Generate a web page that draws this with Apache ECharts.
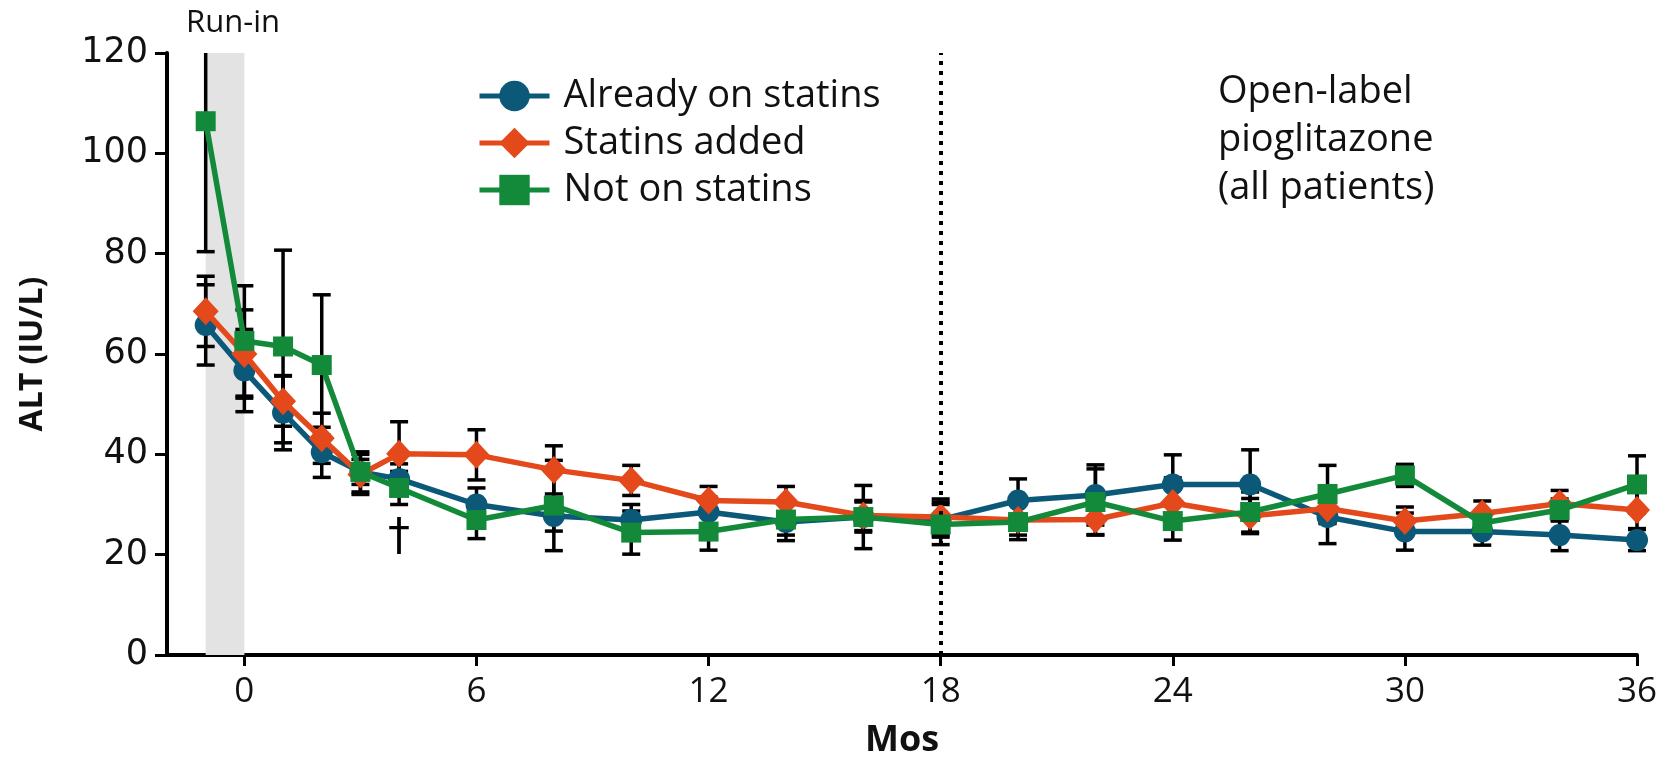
<!DOCTYPE html>
<html>
<head>
<meta charset="utf-8">
<script src="https://cdn.jsdelivr.net/npm/echarts@6/dist/echarts.min.js"></script>
<style>
  html, body { margin: 0; padding: 0; background: #fff; }
  #main { width: 1671px; height: 764px; }
</style>
</head>
<body>
<div id="main"></div>
<script>
// months of follow-up
var months = [-1, 0, 1, 2, 3, 4, 6, 8, 10, 12, 14, 16, 18, 20, 22, 24, 26, 28, 30, 32, 34, 36];

// ALT means (IU/L)
var alreadyOn = [65.8, 56.7, 48.3, 40.4, 36.5, 35.1, 30.0, 27.7, 26.9, 28.5, 26.5, 27.5, 27.0, 30.8, 31.9, 34.0, 34.0, 27.5, 24.6, 24.6, 23.9, 22.9];
var added     = [68.5, 60.0, 50.6, 43.2, 36.0, 40.1, 39.9, 36.9, 34.8, 30.8, 30.5, 27.8, 27.5, 26.9, 27.0, 30.3, 27.7, 29.2, 26.7, 28.2, 30.2, 28.9];
var notOn     = [106.4, 62.6, 61.5, 57.8, 36.5, 33.3, 26.9, 29.8, 24.4, 24.6, 27.0, 27.5, 26.0, 26.5, 30.5, 26.7, 28.5, 32.1, 35.8, 26.3, 28.9, 34.0];

// error bar half widths
var alreadyOnErr = [8, 8.2, 7.4, 5, 2.5, 3, 3.3, 3, 3.1, 3, 3.7, 3, 3.5, 4.3, 6, 5.9, 6.9, 5.3, 3.7, 2.7, 3.1, 2.1];
var addedErr     = [7, 8.8, 5, 5, 4, 6.4, 5, 4.8, 3, 2.8, 3.1, 3, 3.6, 3, 3, 5, 3.5, 3, 2.8, 2.5, 2.6, 3.7];
var notOnErr     = [26, 11, 19.2, 14, 4, 3.3, 3.7, 9, 4.3, 3.7, 3.1, 6.3, 4, 3.5, 6.6, 3.8, 4, 5.7, 2.2, 2, 2.2, 5.7];

var xTicks = [0, 6, 12, 18, 24, 30, 36];
var names = ['Already on statins', 'Statins added', 'Not on statins'];
var colors = ['#0b5878', '#e4491c', '#128a3a'];

var yMax = 120;

function pairs(vals) {
  return months.map(function (m, i) { return [m, vals[i]]; });
}
function errData(vals, errs) {
  return months.map(function (m, i) { return [m, vals[i] - errs[i], vals[i] + errs[i]]; });
}

// 误差线
function renderErr(params, api) {
  var x = api.value(0);
  var lo = api.value(1);
  var hi = api.value(2);
  var capTop = true;
  if (hi > yMax) { hi = yMax; capTop = false; }
  var pLo = api.coord([x, lo]);
  var pHi = api.coord([x, hi]);
  var w = 9;
  var st = { stroke: '#000', lineWidth: 3.5 };
  var kids = [
    { type: 'line', shape: { x1: pLo[0], y1: pLo[1], x2: pHi[0], y2: pHi[1] }, style: st },
    { type: 'line', shape: { x1: pLo[0] - w, y1: pLo[1], x2: pLo[0] + w, y2: pLo[1] }, style: st }
  ];
  if (capTop) {
    kids.push({ type: 'line', shape: { x1: pHi[0] - w, y1: pHi[1], x2: pHi[0] + w, y2: pHi[1] }, style: st });
  }
  return { type: 'group', children: kids };
}

var font = '"Open Sans", sans-serif';
var chart = echarts.init(document.getElementById('main'));

var option = {
  animation: false,
  grid: { left: 167, right: 34, top: 53, bottom: 105, containLabel: false },
  legend: {
    data: names,
    orient: 'vertical',
    left: 472,
    top: 72,
    itemWidth: 70,
    itemHeight: 38,
    itemGap: 9,
    lineStyle: { width: 5 },
    textStyle: { fontFamily: font, fontSize: 38, color: '#111', lineHeight: 38, padding: [0, 0, 0, 9] }
  },
  xAxis: {
    type: 'value',
    min: -2,
    max: 36,
    name: 'Mos',
    nameLocation: 'middle',
    nameGap: 68,
    nameTextStyle: { fontFamily: font, fontSize: 36, fontWeight: 'bold', color: '#111' },
    axisLine: { onZero: false, lineStyle: { color: '#000', width: 4 } },
    axisTick: { show: true, length: 11, customValues: xTicks, lineStyle: { color: '#000', width: 3 } },
    axisLabel: { customValues: xTicks, margin: 20, fontFamily: font, fontSize: 35, color: '#111' },
    splitLine: { show: false }
  },
  yAxis: {
    type: 'value',
    min: 0,
    max: 120,
    interval: 20,
    name: 'ALT (IU/L)',
    nameLocation: 'middle',
    nameGap: 118,
    nameTextStyle: { fontFamily: font, fontSize: 32, fontWeight: 'bold', color: '#111' },
    axisLine: { show: true, onZero: false, lineStyle: { color: '#000', width: 4 } },
    axisTick: { show: true, length: 12, lineStyle: { color: '#000', width: 3 } },
    axisLabel: { margin: 19, fontFamily: '"DejaVu Sans", sans-serif', fontSize: 35, color: '#111' },
    splitLine: { show: false }
  },
  graphic: [
    {
      type: 'text',
      left: 1328 - 110,
      top: 68,
      style: {
        text: 'Open-label\npioglitazone\n(all patients)',
        width: 220,
        align: 'center',
        font: '38px "Open Sans", sans-serif',
        lineHeight: 48,
        fill: '#111'
      }
    }
  ],
  series: [
    {
      name: 'bg',
      type: 'line',
      data: [],
      z: 1,
      silent: true,
      markArea: {
        silent: true,
        itemStyle: { color: '#e3e3e3' },
        label: {
          show: true, position: 'top', distance: 14, offset: [8, 0],
          formatter: 'Run-in', fontFamily: font, fontSize: 31, color: '#111'
        },
        data: [[{ xAxis: -1 }, { xAxis: 0 }]]
      },
      markLine: {
        silent: true,
        symbol: 'none',
        label: { show: false },
        lineStyle: { color: '#000', width: 4, type: [4, 6] },
        data: [{ xAxis: 18 }]
      }
    },
    { name: 'e1', type: 'custom', z: 2, renderItem: renderErr, data: errData(alreadyOn, alreadyOnErr), encode: { x: 0, y: [1, 2] } },
    { name: 'e2', type: 'custom', z: 2, renderItem: renderErr, data: errData(added, addedErr), encode: { x: 0, y: [1, 2] } },
    { name: 'e3', type: 'custom', z: 2, renderItem: renderErr, data: errData(notOn, notOnErr), encode: { x: 0, y: [1, 2] } },
    {
      name: names[0], type: 'line', z: 3, data: pairs(alreadyOn),
      symbol: 'circle', symbolSize: 22,
      lineStyle: { color: colors[0], width: 5.5 }, itemStyle: { color: colors[0] }
    },
    {
      name: names[1], type: 'line', z: 4, data: pairs(added),
      symbol: 'diamond', symbolSize: [26, 28],
      lineStyle: { color: colors[1], width: 5.5 }, itemStyle: { color: colors[1] }
    },
    {
      name: names[2], type: 'line', z: 5, data: pairs(notOn),
      symbol: 'rect', symbolSize: 20,
      lineStyle: { color: colors[2], width: 5.5 }, itemStyle: { color: colors[2] },
      markPoint: {
        silent: true,
        symbol: 'circle', symbolSize: 0,
        label: { show: true, position: 'inside', formatter: '\u2020', fontFamily: '"DejaVu Sans", sans-serif', fontSize: 44, color: '#000' },
        data: [{ coord: [4, 23.2] }]
      }
    }
  ]
};

chart.setOption(option);
</script>
</body>
</html>
